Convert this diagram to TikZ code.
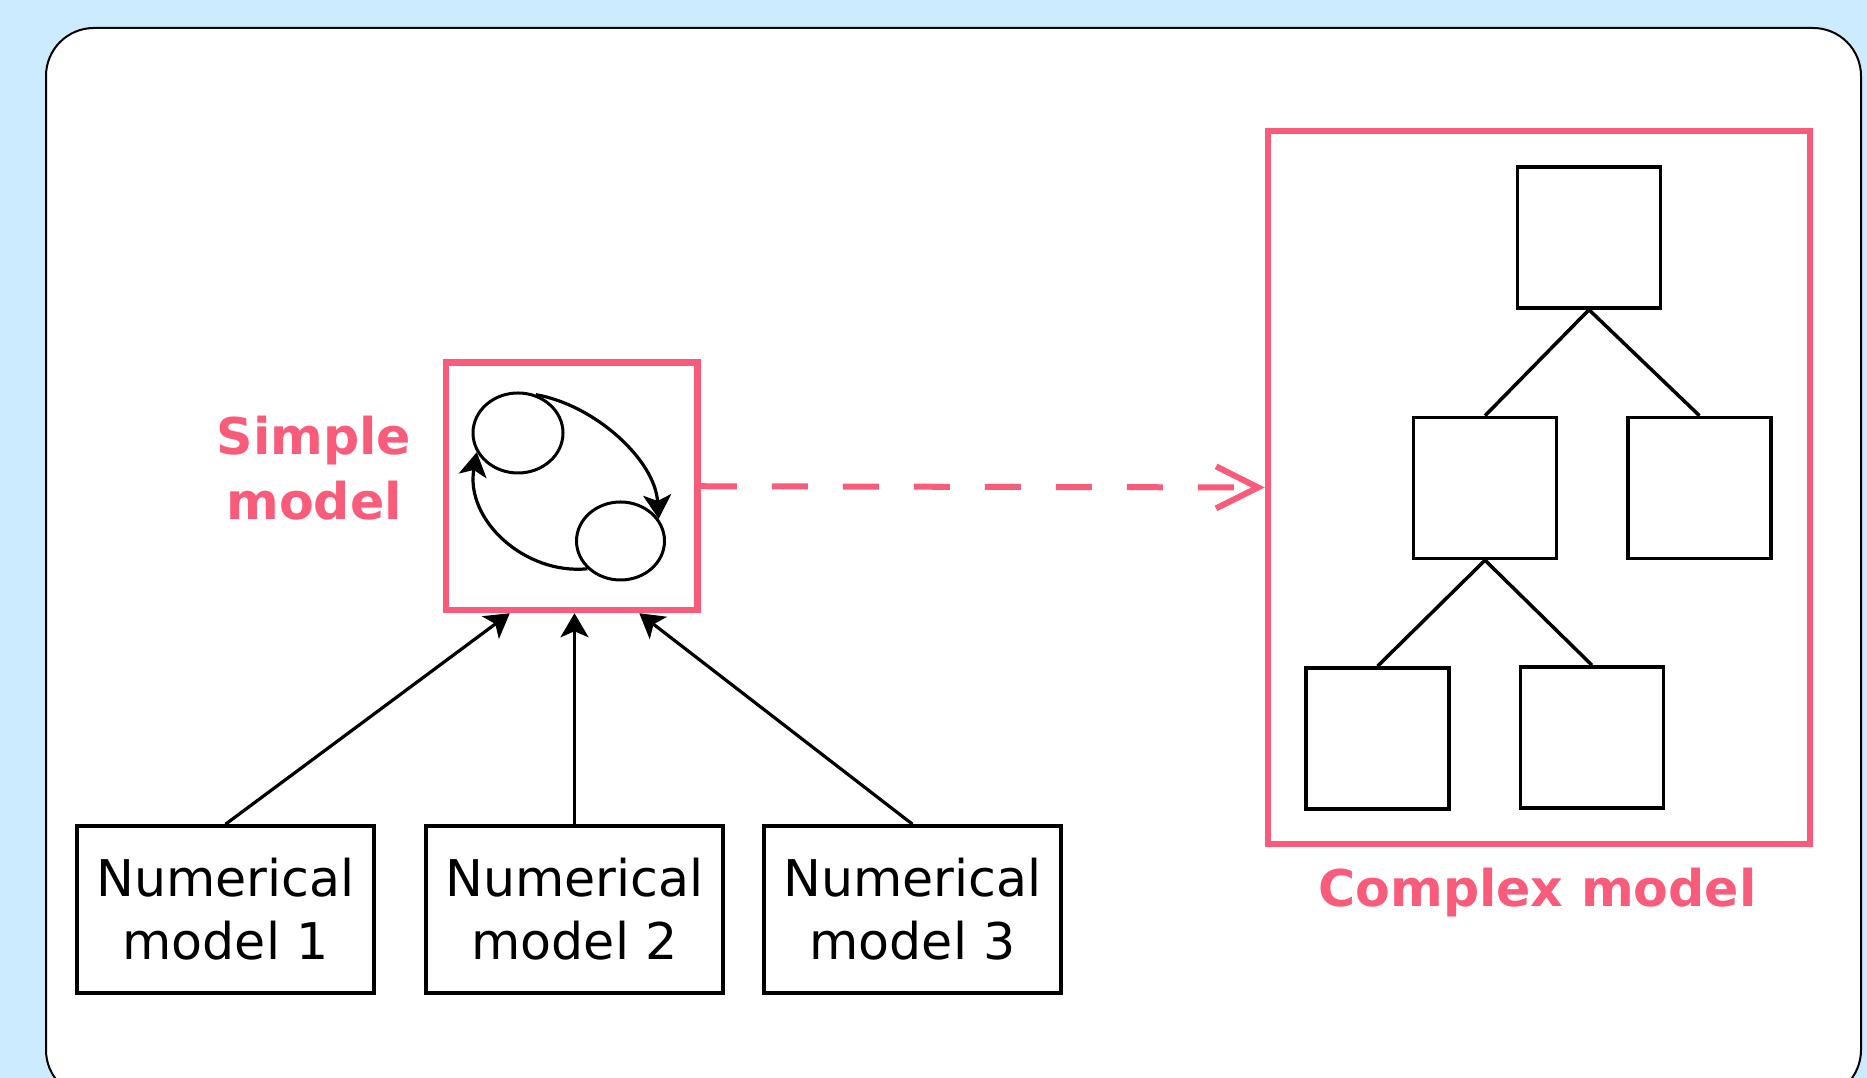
\documentclass[tikz,border=0pt]{standalone}
\usepackage{fontspec}
\setmainfont{DejaVu Sans}
\usepackage{tikz}
\usetikzlibrary{shapes.geometric, arrows.meta, positioning}
\definecolor{skyback}{RGB}{204,235,255}
\definecolor{modelpink}{RGB}{249,92,122}
\tikzstyle{numbox} = [rectangle, minimum width=2.97cm, minimum height=1.67cm, inner sep=0pt, align=center, draw=black, line width=0.035cm, font=\fontsize{14.4pt}{18pt}\selectfont]
\tikzstyle{pinkbox} = [rectangle, inner sep=0pt, draw=modelpink, line width=0.065cm]
\tikzstyle{treebox} = [rectangle, minimum width=1.43cm, minimum height=1.41cm, inner sep=0pt, draw=black, line width=0.035cm]
\tikzstyle{loopnode} = [ellipse, minimum width=0.9cm, minimum height=0.8cm, inner sep=0pt, draw=black, line width=0.03cm]
\tikzstyle{pinklabel} = [text=modelpink, font=\fontsize{14.4pt}{18.5pt}\selectfont\bfseries, align=center, anchor=base]
\tikzstyle{branch} = [line width=0.035cm]
\tikzstyle{arrow} = [line width=0.032cm, -{Stealth[length=0.24cm, width=0.28cm, inset=0.06cm]}]
\tikzstyle{dashedarrow} = [draw=modelpink, line width=0.06cm, dash pattern=on 0.36cm off 0.35cm, -{Straight Barb[length=0.42cm, width=0.42cm]}]

\begin{document}
\begin{tikzpicture}
    % Background and frame
    \fill[skyback] (0,0) rectangle (18.67,-10.78);
    \clip (0,0) rectangle (18.67,-10.78);
    \draw[rounded corners=0.48cm, fill=white, line width=0.02cm] (0.46,-0.28) rectangle (18.61,-10.98);

    % Simple model
    \node[pinkbox, minimum width=2.515cm, minimum height=2.475cm] (simple) at (5.7175,-4.8625) {};
    \node[loopnode] (loopA) at (5.18,-4.33) {};
    \node[loopnode, minimum width=0.88cm, minimum height=0.78cm] (loopB) at (6.205,-5.41) {};
    \node[pinklabel] (simplelabel) at (3.14,-5.20) {Simple\\model};
    \draw[arrow] (loopA.65) .. controls (5.95,-4.05) and (6.55,-4.60) .. (loopB.30);
    \draw[arrow] (loopB.220) .. controls (5.25,-5.75) and (4.65,-5.20) .. (loopA.205);

    % Numerical models
    \node[numbox] (num1) at (2.255,-9.095) {Numerical\\model 1};
    \node[numbox] (num2) at (5.745,-9.095) {Numerical\\model 2};
    \node[numbox] (num3) at (9.125,-9.095) {Numerical\\model 3};

    % Complex model
    \node[pinkbox, minimum width=5.42cm, minimum height=7.13cm] (complex) at (15.39,-4.875) {};
    \node[treebox] (treetop) at (15.89,-2.375) {};
    \node[treebox] (treeleft) at (14.85,-4.88) {};
    \node[treebox] (treeright) at (16.995,-4.88) {};
    \node[treebox] (leafleft) at (13.775,-7.385) {};
    \node[treebox] (leafright) at (15.92,-7.375) {};
    \node[pinklabel] (complexlabel) at (15.375,-9.07) {Complex model};
    \foreach \a/\b in {treetop/treeleft, treetop/treeright, treeleft/leafleft, treeleft/leafright}
        \draw[branch] (\a.south) -- (\b.north);

    % Arrows
    \draw[arrow] (num1.north) -- (simple.244);
    \draw[arrow] (num2.north) -- (num2.north |- simple.south);
    \draw[arrow] (num3.north) -- (simple.298);
    \draw[dashedarrow] (simple.east) -- (complex.west);
\end{tikzpicture}
\end{document}
